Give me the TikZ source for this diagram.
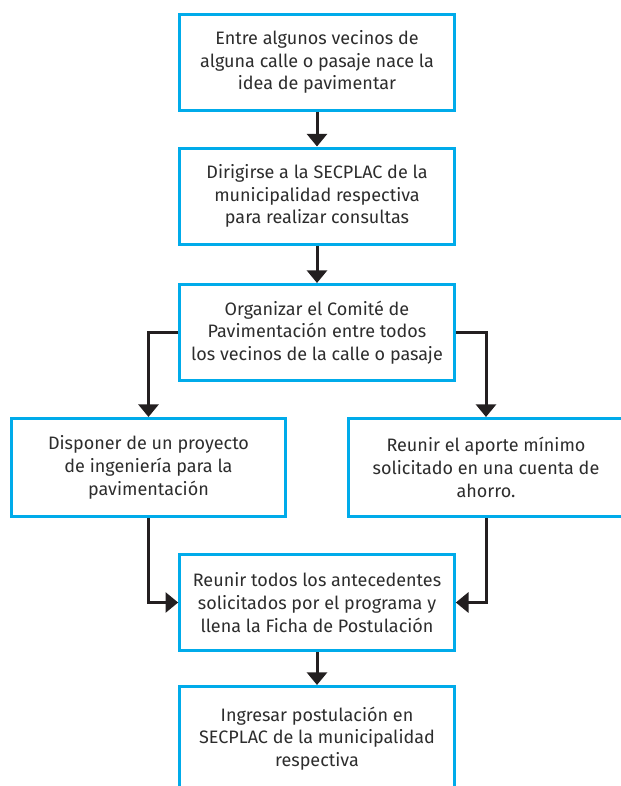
\documentclass[tikz,border=0pt]{standalone}
\usepackage{fontspec}
\setmainfont{Fira Sans}
\usetikzlibrary{arrows.meta}
\definecolor{borde}{RGB}{0,171,234}
\definecolor{tinta}{RGB}{35,31,32}
\definecolor{texto}{RGB}{45,45,45}
\begin{document}
\begin{tikzpicture}[x=0.75pt, y=-0.75pt,
    paso/.style={draw=borde, line width=2.25pt, fill=white, text=texto, align=center,
        minimum width=206pt, minimum height=72pt, inner sep=0pt,
        font=\fontsize{13.5}{17}\selectfont},
    lado/.style={paso, minimum height=73.5pt},
    flecha/.style={draw=tinta, line width=2.25pt, -{Triangle[width=15pt, length=9.5pt]}}]
\useasboundingbox (0,0) rectangle (621,786);
\clip (0,0) rectangle (621,786);
\node[paso] (p1) at (317, 62) {Entre algunos vecinos de\\alguna calle o pasaje nace la\\idea de pavimentar}; % Paso.1
\node[paso] (p2) at (317, 196) {Dirigirse a la SECPLAC de la\\municipalidad respectiva\\para realizar consultas}; % Paso.2
\node[paso] (p3) at (317, 332.5) {Organizar el Comité de\\Pavimentación entre todos\\los vecinos de la calle o pasaje}; % Paso.3
\node[lado] (p4) at (148.5, 467.5) {Disponer de un proyecto\\de ingeniería para la\\pavimentación}; % Paso.4a
\node[lado] (p5) at (486, 467.5) {Reunir el aporte mínimo\\solicitado en una cuenta de\\ahorro.}; % Paso.4b
\node[paso] (p6) at (317, 602.5) {Reunir todos los antecedentes\\solicitados por el programa y\\llena la Ficha de Postulación}; % Paso.5
\node[paso, minimum height=78pt] (p7) at (317, 738.5) {Ingresar postulación en\\SECPLAC de la municipalidad\\respectiva}; % Paso.6
\draw[flecha] (p1) -- (p2) ; % p1-p2
\draw[flecha] (p2) -- (p3) ; % p2-p3
\draw[flecha] (p3.west) -| (p4.north) ; % p3-p4
\draw[flecha] (p3.east) -| (p5.north) ; % p3-p5
\draw[flecha] (p4.south) |- (p6.west) ; % p4-p6
\draw[flecha] (p5.south) |- (p6.east) ; % p5-p6
\draw[flecha] (p6) -- (p7) ; % p6-p7
\end{tikzpicture}
\end{document}
